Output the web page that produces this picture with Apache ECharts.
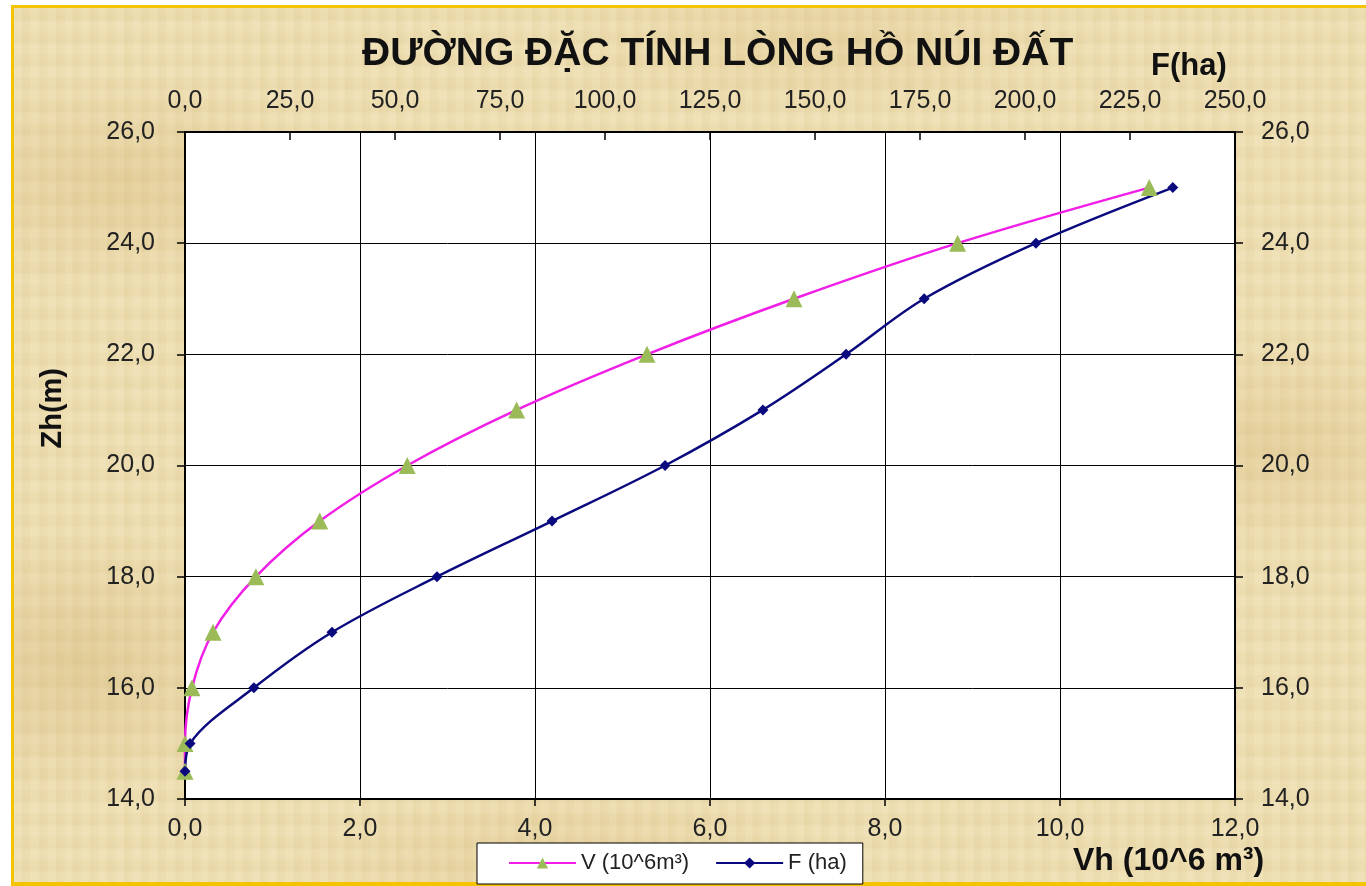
<!DOCTYPE html>
<html>
<head>
<meta charset="utf-8">
<script src="https://cdn.jsdelivr.net/npm/echarts@6/dist/echarts.min.js"></script>
<style>
html,body{margin:0;padding:0;width:1366px;height:886px;overflow:hidden;background:#fff;}
#frame{position:absolute;left:11px;top:5px;width:1355px;height:881px;box-sizing:border-box;
 border-left:3px solid #f4c400;border-top:3px solid #f4c400;border-bottom:4px solid #f4c400;
 background-color:#ecdcae;
 background-image:
  radial-gradient(ellipse 300px 160px at 8% 20%, rgba(205,170,100,0.28), rgba(205,170,100,0) 70%),
  radial-gradient(ellipse 260px 200px at 5% 75%, rgba(200,165,95,0.30), rgba(200,165,95,0) 70%),
  radial-gradient(ellipse 320px 160px at 93% 50%, rgba(205,170,100,0.25), rgba(205,170,100,0) 70%),
  radial-gradient(ellipse 400px 120px at 40% 98%, rgba(210,175,105,0.25), rgba(210,175,105,0) 70%),
  radial-gradient(ellipse 400px 100px at 60% 4%, rgba(210,175,105,0.22), rgba(210,175,105,0) 70%),
  repeating-linear-gradient(90deg, rgba(255,248,225,0.10) 0px, rgba(255,248,225,0.10) 7px, rgba(190,160,100,0.06) 9px, rgba(255,248,225,0) 17px),
  repeating-linear-gradient(0deg, rgba(255,248,225,0.10) 0px, rgba(255,248,225,0.10) 9px, rgba(190,160,100,0.06) 12px, rgba(255,248,225,0) 23px);}
#chart{position:absolute;left:0;top:0;width:1366px;height:886px;}
</style>
</head>
<body>
<div id="frame"></div>
<div id="chart"></div>
<script>
// Elevation levels Zh (m)
var zLevels = [14.5, 15, 16, 17, 18, 19, 20, 21, 22, 23, 24, 25];
// Volume V (10^6 m3) - bottom axis
var vValues = [0.0, 0.0, 0.08, 0.32, 0.81, 1.54, 2.54, 3.79, 5.28, 6.96, 8.83, 11.02];
// Area F (ha) - top axis
var fValues = [0.0, 1.2, 16.4, 35.0, 60.0, 87.4, 114.3, 137.6, 157.4, 176.0, 202.6, 235.2];

var titleText = 'ĐƯỜNG ĐẶC TÍNH LÒNG HỒ NÚI ĐẤT';
var vName = 'V (10^6m³)';
var fName = 'F (ha)';

function pair(xs, ys){ var out=[]; for (var i=0;i<xs.length;i++) out.push([xs[i], ys[i]]); return out; }
function fmt(v){ return v.toFixed(1).replace('.', ','); }

var FONT = '"Liberation Sans", Arial, sans-serif';

var chart = echarts.init(document.getElementById('chart'), null, {renderer:'canvas'});
chart.setOption({
  backgroundColor: 'transparent',
  animation: false,
  grid: {left: 185, top: 132, width: 1050, height: 667, show: true, backgroundColor: '#ffffff', borderColor: '#000', borderWidth: 1},
  graphic: [
    {type:'text', left: 362, top: 35, style:{text: titleText, font: 'bold 39px ' + FONT, fill:'#111'}},
    {type:'text', left: 1151, top: 51, style:{text: 'F(ha)', font: 'bold 31px ' + FONT, fill:'#111'}},
    {type:'text', left: 1073, top: 845, style:{text: 'Vh (10^6 m³)', font: 'bold 32px ' + FONT, fill:'#111'}},
    {type:'text', left: 38, top: 368, rotation: Math.PI/2, style:{text: 'Zh(m)', font: 'bold 29px ' + FONT, fill:'#111'}}
  ],
  legend: {
    left: 477, top: 843,
    padding: [9, 16, 10, 31],
    itemGap: 26,
    itemWidth: 67, itemHeight: 14,
    backgroundColor: '#ffffff', borderColor: '#000', borderWidth: 1,
    textStyle: {fontFamily: FONT, fontSize: 22, color: '#222'},
    data: [vName, fName]
  },
  xAxis: [
    {type:'value', position:'bottom', min:0, max:12, interval:2,
     axisLine:{show:true, onZero:false, lineStyle:{color:'#000', width:2}},
     axisTick:{show:true, length:7, lineStyle:{color:'#000', width:1.5}},
     splitLine:{show:true, lineStyle:{color:'#000', width:1}},
     axisLabel:{margin:18, formatter: fmt, fontFamily: FONT, fontSize: 25, color:'#222'}},
    {type:'value', position:'top', min:0, max:250, interval:25,
     axisLine:{show:true, onZero:false, lineStyle:{color:'#000', width:2}},
     axisTick:{show:true, inside:true, length:8, lineStyle:{color:'#000', width:1.5}},
     splitLine:{show:false},
     axisLabel:{margin:18, formatter: fmt, fontFamily: FONT, fontSize: 25, color:'#222'}}
  ],
  yAxis: [
    {type:'value', position:'left', min:14, max:26, interval:2,
     axisLine:{show:true, onZero:false, lineStyle:{color:'#000', width:2}},
     axisTick:{show:true, length:8, lineStyle:{color:'#000', width:1.5}},
     splitLine:{show:true, lineStyle:{color:'#000', width:1}},
     axisLabel:{margin:30, formatter: fmt, fontFamily: FONT, fontSize: 25, color:'#222'}},
    {type:'value', position:'right', min:14, max:26, interval:2,
     axisLine:{show:true, onZero:false, lineStyle:{color:'#000', width:2}},
     axisTick:{show:true, length:8, lineStyle:{color:'#000', width:1.5}},
     splitLine:{show:false},
     axisLabel:{margin:26, formatter: fmt, fontFamily: FONT, fontSize: 25, color:'#222'}}
  ],
  series: [
    {name: vName, type:'line', xAxisIndex:0, yAxisIndex:0, data: pair(vValues, zLevels),
     smooth: 0.35, symbol:'triangle', symbolSize:17, showAllSymbol:true,
     lineStyle:{color:'#f01ee6', width:2.5}, itemStyle:{color:'#9bbb59', borderWidth:0}},
    {name: fName, type:'line', xAxisIndex:1, yAxisIndex:0, data: pair(fValues, zLevels),
     smooth: 0.35, symbol:'diamond', symbolSize:11, showAllSymbol:true,
     lineStyle:{color:'#0a0a7e', width:2.5}, itemStyle:{color:'#0a0a7e', borderWidth:0}}
  ]
});
</script>
</body>
</html>
